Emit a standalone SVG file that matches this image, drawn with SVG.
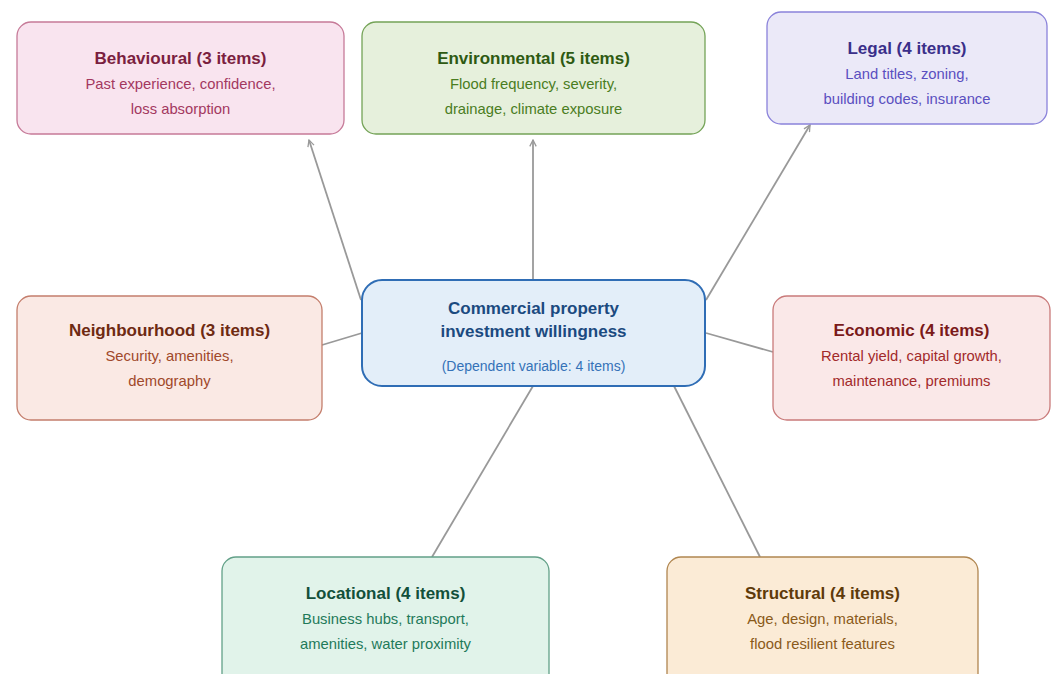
<svg xmlns="http://www.w3.org/2000/svg" width="1051" height="674" viewBox="0 0 1051 674">
<defs>
<marker id="arr" viewBox="0 0 10 10" refX="9" refY="5" markerWidth="8" markerHeight="8" orient="auto" markerUnits="userSpaceOnUse">
<path d="M1,1 L9,5 L1,9" fill="none" stroke="#999" stroke-width="1.6"/>
</marker>
<style>
text{font-family:"Liberation Sans",Arial,sans-serif;text-anchor:middle}
.t{font-size:17px;font-weight:bold}
.b{font-size:14.8px}
.c{stroke:#999;stroke-width:1.8;fill:none}
</style>
</defs>
<rect width="1051" height="674" fill="#fff"/>
<g id="connectors">
<line class="c" x1="361" y1="300" x2="309" y2="140" marker-end="url(#arr)"/>
<line class="c" x1="533" y1="280" x2="533" y2="140" marker-end="url(#arr)"/>
<line class="c" x1="706" y1="300" x2="810" y2="125" marker-end="url(#arr)"/>
<line class="c" x1="322" y1="345" x2="362" y2="333"/>
<line class="c" x1="706" y1="333" x2="773" y2="352"/>
<line class="c" x1="432" y1="557" x2="533" y2="386"/>
<line class="c" x1="760" y1="557" x2="674" y2="386"/>
</g>
<g id="behavioural">
<rect x="17" y="22" width="327" height="112" rx="14" fill="#f9e4ef" stroke="#c67a98" stroke-width="1.3"/>
<text class="t" x="180.5" y="64" fill="#7b1f3f">Behavioural (3 items)</text>
<text class="b" x="180.5" y="89" fill="#a3385f">Past experience, confidence,</text>
<text class="b" x="180.5" y="114" fill="#a3385f">loss absorption</text>
</g>
<g id="environmental">
<rect x="362" y="22" width="343" height="112" rx="14" fill="#e6f0dc" stroke="#74a357" stroke-width="1.3"/>
<text class="t" x="533.5" y="64" fill="#2e5a12">Environmental (5 items)</text>
<text class="b" x="533.5" y="89" fill="#4a7d22">Flood frequency, severity,</text>
<text class="b" x="533.5" y="114" fill="#4a7d22">drainage, climate exposure</text>
</g>
<g id="legal">
<rect x="767" y="12" width="280" height="112" rx="14" fill="#ebe9f8" stroke="#8a82da" stroke-width="1.3"/>
<text class="t" x="907" y="54" fill="#3a2f8a">Legal (4 items)</text>
<text class="b" x="907" y="79" fill="#5a4fc0">Land titles, zoning,</text>
<text class="b" x="907" y="104" fill="#5a4fc0">building codes, insurance</text>
</g>
<g id="center">
<rect x="362" y="280" width="343" height="106" rx="20" fill="#e3eef9" stroke="#2f6db5" stroke-width="2"/>
<text class="t" x="533.5" y="314" fill="#1b4a80">Commercial property</text>
<text class="t" x="533.5" y="337" fill="#1b4a80">investment willingness</text>
<text x="533.5" y="371" font-size="14" fill="#3572b8">(Dependent variable: 4 items)</text>
</g>
<g id="neighbourhood">
<rect x="17" y="296" width="305" height="124" rx="14" fill="#fae9e4" stroke="#c47e6c" stroke-width="1.3"/>
<text class="t" x="169.5" y="336" fill="#6e2a12">Neighbourhood (3 items)</text>
<text class="b" x="169.5" y="361" fill="#a0482a">Security, amenities,</text>
<text class="b" x="169.5" y="386" fill="#a0482a">demography</text>
</g>
<g id="economic">
<rect x="773" y="296" width="277" height="124" rx="14" fill="#fae8e8" stroke="#c97a7a" stroke-width="1.3"/>
<text class="t" x="911.5" y="336" fill="#7a1a1a">Economic (4 items)</text>
<text class="b" x="911.5" y="361" fill="#a22a2a">Rental yield, capital growth,</text>
<text class="b" x="911.5" y="386" fill="#a22a2a">maintenance, premiums</text>
</g>
<g id="locational">
<rect x="222" y="557" width="327" height="135" rx="14" fill="#e1f3ea" stroke="#62a088" stroke-width="1.3"/>
<text class="t" x="385.5" y="599" fill="#12503a">Locational (4 items)</text>
<text class="b" x="385.5" y="624" fill="#1f7a5a">Business hubs, transport,</text>
<text class="b" x="385.5" y="649" fill="#1f7a5a">amenities, water proximity</text>
</g>
<g id="structural">
<rect x="667" y="557" width="311" height="135" rx="14" fill="#fbebd6" stroke="#b08650" stroke-width="1.3"/>
<text class="t" x="822.5" y="599" fill="#5e3a0a">Structural (4 items)</text>
<text class="b" x="822.5" y="624" fill="#8a5a1a">Age, design, materials,</text>
<text class="b" x="822.5" y="649" fill="#8a5a1a">flood resilient features</text>
</g>
</svg>
